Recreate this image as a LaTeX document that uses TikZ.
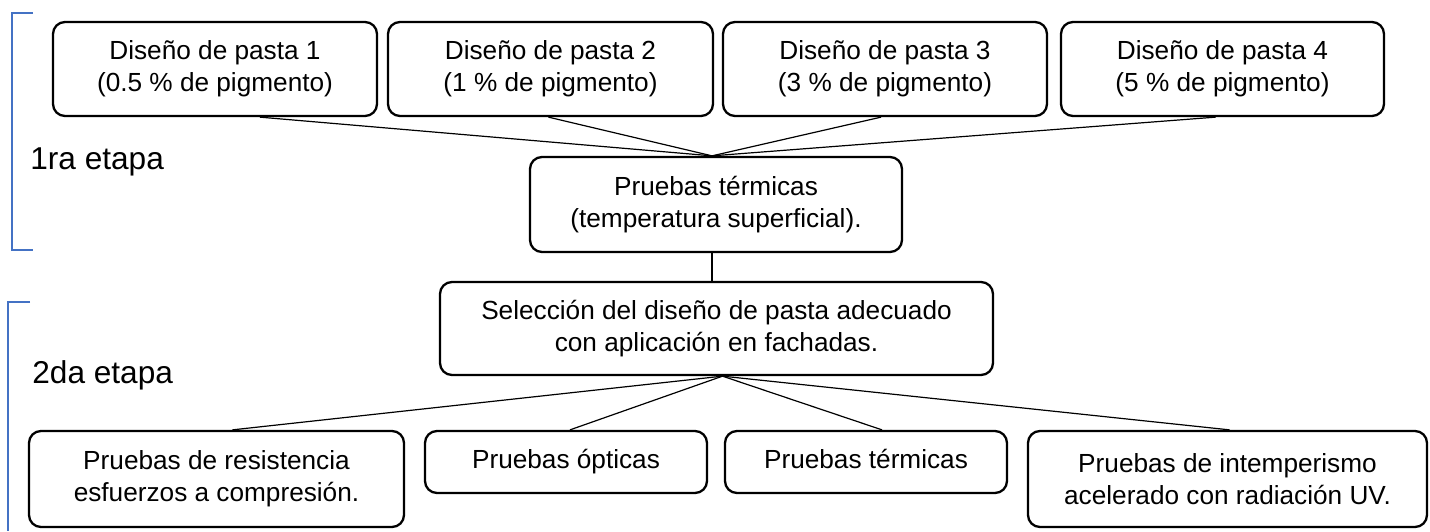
\documentclass[tikz,border=0pt]{standalone}
\usepackage{fontspec}
\setmainfont{Liberation Sans}
\definecolor{brblue}{HTML}{4472C4}
\tikzset{
  box/.style={draw=black, line width=1.15pt, rounded corners=6pt, align=center,
    font=\fontsize{13.1}{16}\selectfont, inner sep=0pt},
  oneline/.style={box, text height=9.6pt, text depth=2.9pt},
  link/.style={draw=black, line width=0.6pt},
  bracketline/.style={draw=brblue, line width=1.1pt},
  stagelabel/.style={anchor=west, inner sep=0pt, font=\fontsize{15.8}{19}\selectfont}
}
\begin{document}
\begin{tikzpicture}[x=0.5pt,y=-0.5pt]
\useasboundingbox (0,0) rectangle (1430,531);
% top row
\node[box, minimum width=162pt, minimum height=47pt] (d1) at (215,69) {Diseño de pasta 1\\(0.5 \% de pigmento)};
\node[box, minimum width=162.5pt, minimum height=47pt] (d2) at (550.5,69) {Diseño de pasta 2\\(1 \% de pigmento)};
\node[box, minimum width=162pt, minimum height=47pt] (d3) at (885,69) {Diseño de pasta 3\\(3 \% de pigmento)};
\node[box, minimum width=161.5pt, minimum height=47pt] (d4) at (1222.5,69) {Diseño de pasta 4\\(5 \% de pigmento)};
% middle
\node[box, minimum width=186pt, minimum height=47.5pt] (pt) at (716,204.5) {Pruebas térmicas\\(temperatura superficial).};
\node[box, minimum width=276.5pt, minimum height=46.5pt] (sel) at (716.5,328.5) {Selección del diseño de pasta adecuado\\con aplicación en fachadas.};
% bottom row
\node[box, minimum width=187.5pt, minimum height=48pt] (r1) at (216.5,479) {Pruebas de resistencia\\esfuerzos a compresión.};
\node[oneline, minimum width=141pt, minimum height=31pt] (op) at (566,462) {Pruebas ópticas};
\node[oneline, minimum width=141pt, minimum height=31pt] (te) at (866,462) {Pruebas térmicas};
\node[box, minimum width=199.5pt, minimum height=48pt] (uv) at (1227.5,479) {Pruebas de intemperismo\\acelerado con radiación UV.};
% connectors
\coordinate (ptin) at ([xshift=-2pt]pt.north);
\draw[link] ([xshift=22.5pt]d1.south) -- (ptin);
\draw[link] ([xshift=-1pt]d2.south) -- (ptin);
\draw[link] ([xshift=-2pt]d3.south) -- (ptin);
\draw[link] ([xshift=-3.5pt]d4.south) -- (ptin);
\draw[link] ([xshift=-2pt]pt.south) -- ([xshift=-2pt]pt.south |- sel.north);
\coordinate (selout) at ([xshift=3pt]sel.south);
\draw[link] (selout) -- ([xshift=8pt]r1.north);
\draw[link] (selout) -- ([xshift=2pt]op.north);
\draw[link] (selout) -- ([xshift=8pt]te.north);
\draw[link] (selout) -- ([xshift=1pt]uv.north);
% brackets
\draw[bracketline] (33,13) -- (12,13) -- (12,250) -- (33,250);
\draw[bracketline] (30,302) -- (8,302) -- (8,531);
% stage labels
\node[stagelabel] (s1) at (30,162) {1ra etapa};
\node[stagelabel] (s2) at (32,375) {2da etapa};
\end{tikzpicture}
\end{document}
